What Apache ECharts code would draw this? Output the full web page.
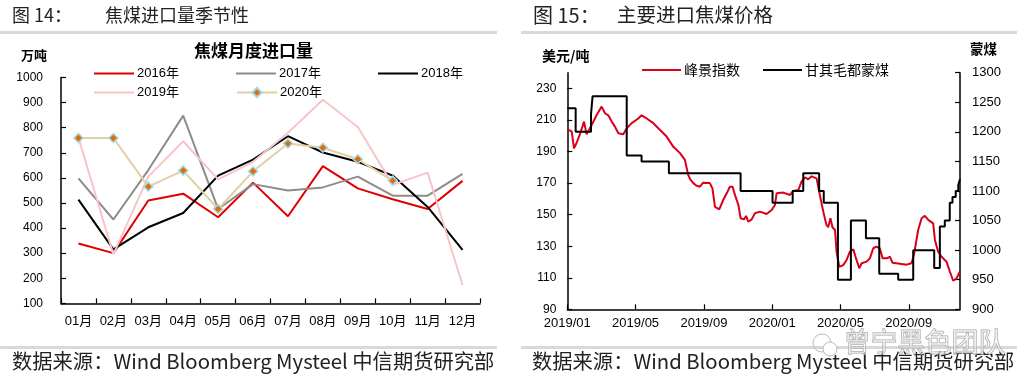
<!DOCTYPE html>
<html><head><meta charset="utf-8">
<script src="https://cdn.jsdelivr.net/npm/echarts@6/dist/echarts.min.js"></script>
<style>html,body{margin:0;padding:0;background:#fff}#c{width:1026px;height:387px}</style>
</head><body><div id="c"></div>
<script>
// ---- Left chart: monthly coking coal imports (万吨)
const months = ['01月','02月','03月','04月','05月','06月','07月','08月','09月','10月','11月','12月'];
const y2016 = [338,300,510,537,443,581,447,647,558,515,476,588];
const y2017 = [598,434,631,848,476,575,550,562,605,529,529,616];
const y2018 = [513,315,403,460,609,673,766,701,664,609,484,313];
const y2019 = [760,295,605,746,594,664,780,911,803,572,621,173];
const y2020 = [759,759,565,629,476,626,737,720,674,589,null,null];

// ---- Right chart: prices. x = months since 2019/01
const xTickMonths = [0,4,8,12,16,20];
const fjMonth = [0,0.26,0.39,0.55,0.74,0.98,1.13,1.43,1.72,2.01,2.21,2.4,2.6,2.79,2.99,3.28,3.48,3.77,4.16,4.35,4.65,5.04,5.43,5.82,6.21,6.6,6.89,7.08,7.2,7.38,7.55,7.77,7.96,8.35,8.5,8.65,8.9,9.13,9.36,9.52,9.68,9.82,10.02,10.15,10.35,10.47,10.6,10.8,10.99,11.28,11.67,11.97,12.16,12.26,12.65,13.04,13.24,13.53,13.72,13.92,14.11,14.31,14.6,14.75,14.99,15.18,15.28,15.41,15.53,15.68,15.77,15.93,16.16,16.36,16.55,16.75,16.94,17.1,17.24,17.53,17.72,17.92,18.11,18.3,18.47,18.7,18.9,19.05,19.48,19.87,20.16,20.3,20.55,20.75,20.94,21.14,21.43,21.53,21.72,21.92,22.21,22.41,22.6,22.8,22.98];
const fjValue = [204.3,202.6,192.1,195.6,201,209,201,206.9,213.2,218.5,214.3,213,209,205.8,201.6,201,204.8,208,211,213,211,208,203.7,199.5,193,189,184.7,175.2,172.4,170,168.5,167.7,170.3,170,166.7,155,153.4,159.3,164,167.7,167.7,162.5,156.1,147.7,147,149.2,145.5,147,150.9,151.9,150.4,153,156.1,163.6,164,162.5,165,165.6,170.9,173.7,172.4,174.3,173,164.6,152,143.5,142,147.7,142,140.3,126.5,117,118,121.3,126.5,128,121.3,116,119.2,120.2,122.3,128.7,129.7,128.7,122.3,122.3,123.3,119.5,118.9,118.3,119.2,124.4,140.3,147.7,149.2,146.7,144.5,134,126.5,123.3,120.2,113.8,108.1,109.6,113.8];
const mgMonth = [0,0.49,1.39,1.48,3.48,4.35,5.95,10.15,12.02,13.2,13.82,14.75,15.02,15.85,16.61,17.49,18.27,19.38,20.26,21.49,21.82,22.11,22.4,22.56,22.75,22.9,23];
const mgValue = [1240,1200,1230,1260,1160,1150,1130,1100,1080,1100,1130,1100,1080,950,1050,1020,960,950,1000,970,1040,1050,1080,1090,1100,1110,1120];
const rightLeftTicks = [90,110,130,150,170,190,210,230];

const F = "'Liberation Sans','Noto Sans CJK SC',sans-serif";
const CJK = "'Noto Sans CJK SC',sans-serif";
const zip = (a,b)=>a.map((v,i)=>[v,b[i]]);
const plain = v => String(v);
const monthLabel = m => { const y = 2019 + Math.floor(m/12); const mo = (m%12)+1; return y + '/' + (mo<10?'0':'') + mo; };

const axisLine = {show:true, lineStyle:{color:'#000', width:1.5}};
const tick = {show:true, inside:true, length:5, lineStyle:{color:'#000', width:1.2}};
const lbl = {color:'#000', fontFamily:F, fontSize:12, formatter:plain};

function lineLegend(name, left, top, extra){
  return Object.assign({data:[{name, icon:'rect'}], left, top, itemWidth:40, itemHeight:2, itemGap:0,
    textStyle:{fontFamily:F, fontSize:13, color:'#000', padding:[0,0,0,-2]}}, extra||{});
}

const chart = echarts.init(document.getElementById('c'));
chart.setOption({
  animation:false,
  backgroundColor:'#fff',
  grid:[
    {left:61, top:77.5, width:419, height:225.8},
    {left:567.3, top:72.7, width:392.7, height:236.6}
  ],
  xAxis:[
    {type:'category', gridIndex:0, data:months, boundaryGap:true, axisLine, axisTick:{...tick, alignWithLabel:false},
     axisLabel:{color:'#000', fontFamily:F, fontSize:13, margin:12, interval:0}, splitLine:{show:false}},
    {type:'value', gridIndex:1, min:0, max:23, axisLine, axisTick:{...tick, customValues:xTickMonths},
     axisLabel:{...lbl, fontSize:13, margin:8, customValues:xTickMonths, formatter:monthLabel}, splitLine:{show:false}}
  ],
  yAxis:[
    {type:'value', gridIndex:0, min:100, max:1000, interval:100, axisLine, axisTick:tick,
     axisLabel:{...lbl, margin:18}, splitLine:{show:false}},
    {type:'value', gridIndex:1, min:90, max:240, position:'left', axisLine, axisTick:{...tick, customValues:rightLeftTicks},
     axisLabel:{...lbl, margin:11, customValues:rightLeftTicks}, splitLine:{show:false}},
    {type:'value', gridIndex:1, min:900, max:1300, interval:50, position:'right', axisLine, axisTick:tick,
     axisLabel:{...lbl, fontSize:13, margin:12}, splitLine:{show:false}}
  ],
  legend:[
    lineLegend('2016年', 89, 62),
    lineLegend('2017年', 231, 62),
    lineLegend('2018年', 373, 62),
    lineLegend('2019年', 89, 81),
    {data:['2020年'], left:231, top:81, itemWidth:40, itemHeight:12, itemGap:0, textStyle:{fontFamily:F, fontSize:13, color:'#000', padding:[0,0,0,-2]}},
    lineLegend('峰景指数', 637, 58, {itemWidth:39, textStyle:{fontFamily:CJK, fontSize:14, color:'#000', padding:[0,0,0,-2]}}),
    lineLegend('甘其毛都蒙煤', 758, 58, {itemWidth:39, textStyle:{fontFamily:CJK, fontSize:14, color:'#000', padding:[0,0,0,-2]}})
  ],
  series:[
    {name:'2016年', type:'line', xAxisIndex:0, yAxisIndex:0, data:y2016, symbol:'none', lineStyle:{color:'#e00000', width:2}, itemStyle:{color:'#e00000'}},
    {name:'2017年', type:'line', xAxisIndex:0, yAxisIndex:0, data:y2017, symbol:'none', lineStyle:{color:'#8c8c8c', width:2}, itemStyle:{color:'#8c8c8c'}},
    {name:'2018年', type:'line', xAxisIndex:0, yAxisIndex:0, data:y2018, symbol:'none', lineStyle:{color:'#000', width:2}, itemStyle:{color:'#000'}},
    {name:'2019年', type:'line', xAxisIndex:0, yAxisIndex:0, data:y2019, symbol:'none', lineStyle:{color:'#f7c5c8', width:2}, itemStyle:{color:'#f7c5c8'}},
    {name:'2020年', type:'line', xAxisIndex:0, yAxisIndex:0, data:y2020, symbol:'diamond', symbolSize:9, showAllSymbol:true,
     lineStyle:{color:'#e3cfa4', width:2}, itemStyle:{color:'#e46c0a', borderColor:'#9fdbea', borderWidth:1.5}},
    {name:'峰景指数', type:'line', xAxisIndex:1, yAxisIndex:1, data:zip(fjMonth,fjValue), symbol:'none', lineStyle:{color:'#d9001b', width:2}, itemStyle:{color:'#d9001b'}},
    {name:'甘其毛都蒙煤', type:'line', xAxisIndex:1, yAxisIndex:2, data:zip(mgMonth,mgValue), step:'end', symbol:'none', lineStyle:{color:'#000', width:2}, itemStyle:{color:'#000'}}
  ],
  graphic:[
    {type:'text', left:12, top:6, style:{text:'图 14：', font:"18px "+CJK, fill:'#222'}},
    {type:'text', left:105, top:6, style:{text:'焦煤进口量季节性', font:"18px "+CJK, fill:'#222'}},
    {type:'text', left:533, top:5, style:{text:'图 15：', font:"20px "+CJK, fill:'#222'}},
    {type:'text', left:617, top:5, style:{text:'主要进口焦煤价格', font:"19.5px "+CJK, fill:'#222'}},
    {type:'rect', shape:{x:0, y:31, width:497, height:3}, style:{fill:'#d9d9d9'}},
    {type:'rect', shape:{x:521, y:31, width:496, height:3}, style:{fill:'#d9d9d9'}},
    {type:'rect', shape:{x:0, y:346, width:497, height:3}, style:{fill:'#d9d9d9'}},
    {type:'rect', shape:{x:521, y:346, width:496, height:3}, style:{fill:'#d9d9d9'}},
    {type:'text', left:12, top:351, style:{text:'数据来源：Wind Bloomberg Mysteel 中信期货研究部', font:"20.3px "+CJK, fill:'#222'}},
    {type:'text', left:532, top:351, style:{text:'数据来源：Wind Bloomberg Mysteel 中信期货研究部', font:"20.3px "+CJK, fill:'#222'}},
    {type:'text', left:843, top:328, z:100, style:{text:'曾宁黑色团队', font:"27px "+CJK, fill:'rgba(255,255,255,0.4)', stroke:'#aaa', lineWidth:1}},
    {type:'circle', shape:{cx:822, cy:343, r:9}, z:100, style:{fill:'none', stroke:'#bbb', lineWidth:1}},
    {type:'circle', shape:{cx:830, cy:349, r:7}, z:100, style:{fill:'#fff', stroke:'#bbb', lineWidth:1}},
    {type:'text', left:194, top:42, style:{text:'焦煤月度进口量', font:"bold 17px "+CJK, fill:'#000'}},
    {type:'text', left:21, top:49, style:{text:'万吨', font:"bold 13px "+CJK, fill:'#000'}},
    {type:'text', left:542, top:49, style:{text:'美元/吨', font:"bold 14px "+CJK, fill:'#000'}},
    {type:'text', left:970, top:42, style:{text:'蒙煤', font:"bold 13.5px "+CJK, fill:'#000'}}
  ]
});
</script></body></html>
